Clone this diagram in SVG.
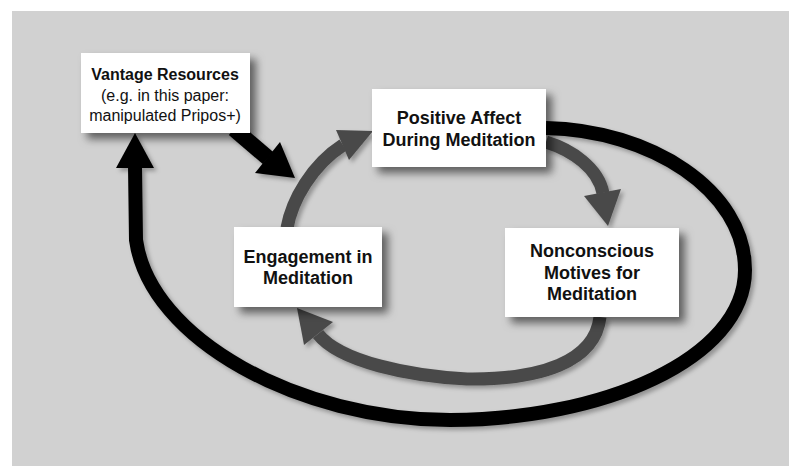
<svg xmlns="http://www.w3.org/2000/svg" width="789" height="466" viewBox="0 0 789 466">
<defs>
<filter id="shadow" x="-20%" y="-20%" width="150%" height="160%">
<feDropShadow dx="6" dy="6" stdDeviation="4" flood-color="#000" flood-opacity="0.55"/>
</filter>
<filter id="ashadow" x="-20%" y="-20%" width="140%" height="140%">
<feDropShadow dx="3" dy="3" stdDeviation="2" flood-color="#000" flood-opacity="0.3"/>
</filter>
<style>
.box{fill:#fff;filter:url(#shadow)}
.t{font-family:"Liberation Sans",Arial,sans-serif;font-size:18px;font-weight:bold;fill:#111;text-anchor:middle}
.s{font-size:16px}
.r{font-weight:normal}
.blk{fill:none;stroke:#000;stroke-width:14}
.gry{fill:none;stroke:#4a4a4a;stroke-width:13}
.hb{fill:#000}
.hg{fill:#4a4a4a}
</style>
</defs>
<rect x="0" y="0" width="789" height="466" fill="#fff"/>
<rect x="12" y="11" width="777" height="455" fill="#d1d1d1"/>
<g id="connectors" filter="url(#ashadow)">
<path class="blk" d="M 546,128 C 650,130 745,190 745,270 C 745,360 600,420 450,420 C 300,420 150,340 136,240 L 135,166"/>
<polygon class="hb" points="135,133 116,168 154,168"/>
<path class="blk" style="stroke-width:16" d="M 234,129 L 268,158"/>
<polygon class="hb" points="295,178 255,173 280,142"/>
<path class="gry" d="M 287,228 C 292,200 312,165 343,145"/>
<polygon class="hg" points="373,131 336,130 349,160"/>
<path class="gry" d="M 546,142 C 572,150 598,168 603,193"/>
<polygon class="hg" points="608,226 584,196 621,189"/>
<path class="gry" d="M 600,317 C 595,362 540,380 467,379 C 410,376 340,362 318,334"/>
<polygon class="hg" points="297,308 304,345 333,322"/>
</g>
<g id="vantage">
<rect class="box" x="81" y="53" width="169" height="80"/>
<text class="t s" x="165" y="80">Vantage Resources</text>
<text class="t s r" x="165" y="101">(e.g. in this paper:</text>
<text class="t s r" x="165" y="121">manipulated Pripos+)</text>
</g>
<g id="positive">
<rect class="box" x="372" y="89" width="174" height="78"/>
<text class="t" x="459" y="124">Positive Affect</text>
<text class="t" x="459" y="146">During Meditation</text>
</g>
<g id="nonconscious">
<rect class="box" x="505" y="228" width="174" height="89"/>
<text class="t" x="592" y="257">Nonconscious</text>
<text class="t" x="592" y="279">Motives for</text>
<text class="t" x="592" y="300">Meditation</text>
</g>
<g id="engagement">
<rect class="box" x="234" y="227" width="148" height="80"/>
<text class="t" x="308" y="263">Engagement in</text>
<text class="t" x="308" y="284">Meditation</text>
</g>
</svg>
